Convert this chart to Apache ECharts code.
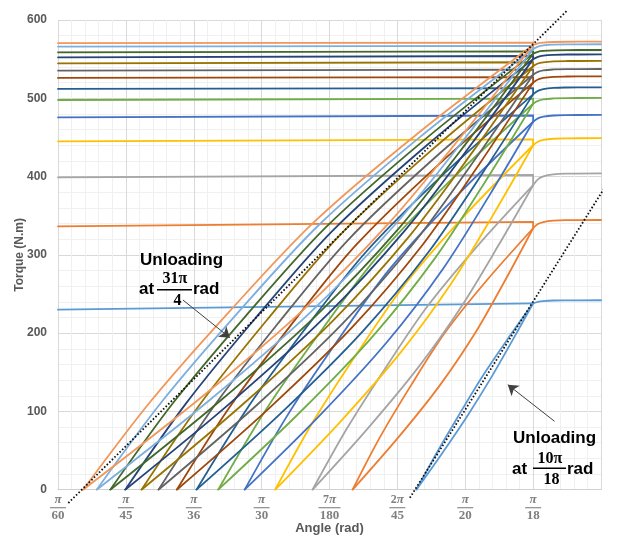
<!DOCTYPE html>
<html><head><meta charset="utf-8">
<script src="https://cdn.jsdelivr.net/npm/echarts@6/dist/echarts.min.js"></script>
<style>html,body{margin:0;padding:0;background:#fff}#c{width:638px;height:536px}</style>
</head><body><div id="c"></div>
<script>
// Angle axis values are in degrees (tick k = k·π/180 rad)
const tickNumerators = ['π','π','π','π','7π','2π','π','π',''];
const tickDenominators = ['60','45','36','30','180','45','20','18',''];

// one entry per loop, from the lowest (right-most) to the highest (left-most)
const loopStart  = [8.28,7.34,6.75,6.20,5.75,5.36,5.04,4.75,4.48,4.23,3.99,3.77,3.57,3.37];
const tipTorque  = [238,334,389,440,470,493,505,520,530,541,550,557,563,568];
const holdLeft   = [230,336.5,399,445,475.7,497.8,512,526,535.4,544.7,552.3,558.7,566,570.5];
const holdRight  = [238,342,402,447.6,478,499.5,513,527,536.5,546,554,560,567,571];

const upperBranch = [
  [[8.583,47.6],[8.905,95.2],[9.238,142.8],[9.608,190.4]],
  [[7.742,66.8],[8.203,133.6],[8.700,200.4],[9.315,267.2]],
  [[7.254,77.8],[7.825,155.6],[8.435,233.4],[9.178,311.2]],
  [[6.766,88],[7.420,176],[8.127,264],[9.011,352]],
  [[6.373,94],[7.100,188],[7.888,282],[8.882,376]],
  [[6.037,98.6],[6.828,197.2],[7.687,295.8],[8.775,394.4]],
  [[5.765,101],[6.611,202],[7.530,303],[8.692,404]],
  [[5.517,104],[6.412,208],[7.385,312],[8.615,416]],
  [[5.292,106],[6.237,212],[7.262,318],[8.551,424]],
  [[5.084,108.2],[6.075,216.4],[7.147,324.6],[8.492,432.8]],
  [[4.884,110],[5.918,220],[7.036,330],[8.434,440]],
  [[4.700,111.4],[5.774,222.8],[6.934,334.2],[8.381,445.6]],
  [[4.532,112.6],[5.641,225.2],[6.839,337.8],[8.331,450.4]],
  [[4.372,113.6],[5.521,227.2],[6.759,340.8],[8.291,454.4]]
];
const lowerBranch = [
  [[8.668,47.6],[9.038,95.2],[9.379,142.8],[9.693,190.4]],
  [[8.014,66.8],[8.628,133.6],[9.148,200.4],[9.586,267.2]],
  [[7.559,77.8],[8.302,155.6],[8.939,233.4],[9.483,311.2]],
  [[7.172,88],[8.055,176],[8.798,264],[9.417,352]],
  [[6.847,94],[7.841,188],[8.671,282],[9.356,376]],
  [[6.562,98.6],[7.650,197.2],[8.555,295.8],[9.301,394.4]],
  [[6.324,101],[7.486,202],[8.453,303],[9.251,404]],
  [[6.109,104],[7.339,208],[8.364,312],[9.208,416]],
  [[5.902,106],[7.192,212],[8.269,318],[9.161,424]],
  [[5.711,108.2],[7.056,216.4],[8.183,324.6],[9.119,432.8]],
  [[5.528,110],[6.926,220],[8.100,330],[9.078,440]],
  [[5.360,111.4],[6.807,222.8],[8.025,334.2],[9.041,445.6]],
  [[5.209,112.6],[6.702,225.2],[7.958,337.8],[9.009,450.4]],
  [[5.049,113.6],[6.582,227.2],[7.878,340.8],[8.969,454.4]]
];
const tailAngles = [10,10.07,10.15,10.3,10.5,11];
const tailTorque = [
  [238,240,241,241.7,241.9,242],
  [334,339.3,341.9,343.7,344.3,344.5],
  [389,396.5,400.3,402.8,403.7,404],
  [440,444.5,446.8,448.3,448.8,449],
  [470,474.4,476.5,478,478.5,478.7],
  [493,496.7,498.6,499.8,500.3,500.4],
  [505,509.5,511.8,513.3,513.8,514],
  [520,524,526,527.4,527.8,528],
  [530,533.7,535.6,536.8,537.3,537.4],
  [541,544.4,546,547.2,547.6,547.7],
  [550,553,554.5,555.5,555.9,556],
  [557,559.4,560.5,561.3,561.6,561.7],
  [563,566,567.5,568.5,568.9,569],
  [568,570.2,571.2,571.9,572.2,572.3]
];
const unloadLineA = [[3.152,-17],[10.51,612.8]];
const unloadLineB = [[8.184,-10.4],[11.54,453]];
const arrowA = [[4.841,242.3],[5.533,194.1]];
const arrowB = [[10.315,87.4],[9.627,134.1]];

const colors = ['#5B9BD5','#ED7D31','#A5A5A5','#FFC000','#4472C4','#70AD47','#255E91','#9E480E','#636363','#997300','#264478','#43682B','#7CAFDD','#F1975A'];

const series = [];
for (let i = 0; i < loopStart.length; i++) {
  const c = colors[i];
  const base = {type:'line', symbol:'none', showSymbol:false, silent:true, animation:false,
    lineStyle:{color:c, width:1.8, cap:'round', join:'round'}, itemStyle:{color:c}, z:2};
  series.push(Object.assign({}, base, {data:[[3,holdLeft[i]],[10,holdRight[i]],[10,tipTorque[i]]]}));
  series.push(Object.assign({}, base, {smooth:0.3, data:[[loopStart[i],0]].concat(upperBranch[i],[[10,tipTorque[i]]])}));
  series.push(Object.assign({}, base, {smooth:0.3, data:[[loopStart[i],0]].concat(lowerBranch[i],[[10,tipTorque[i]]])}));
  series.push(Object.assign({}, base, {smooth:0.4, data:tailAngles.map((a,k)=>[a, tailTorque[i][k]])}));
}
const dotted = {type:'line', symbol:'none', silent:true, animation:false, clip:false, z:5,
  lineStyle:{color:'#111', width:1.8, type:[1.6,2]}};
series.push(Object.assign({}, dotted, {data:unloadLineA}));
series.push(Object.assign({}, dotted, {data:unloadLineB}));
// arrows
series.push({type:'line', symbol:'none', silent:true, animation:false, data:[], z:6,
  markLine:{silent:true, animation:false, symbol:['none','arrow'], symbolSize:10, label:{show:false},
    lineStyle:{color:'#404040', width:1, type:'solid'}, itemStyle:{color:'#404040'},
    data:[[{coord:arrowA[0]},{coord:arrowA[1]}],[{coord:arrowB[0]},{coord:arrowB[1]}]]}});

const lbl = '#7f7f7f';
const ann = 'bold 17px "Liberation Sans"';
const fr = 'bold 16px "Liberation Serif"';
function T(x, y, text, font, align) {
  return {type:'text', x:x, y:y, silent:true, z:100,
    style:{text:text, font:font, fill:'#000', textAlign:align||'left', align:align||'left',
      textVerticalAlign:'middle', verticalAlign:'middle'}};
}
function L(x1, x2, y) {
  return {type:'line', silent:true, z:100, shape:{x1:x1,y1:y,x2:x2,y2:y}, style:{stroke:'#000', lineWidth:1.4}};
}

const chart = echarts.init(document.getElementById('c'), null, {renderer:'canvas'});
chart.setOption({
  animation:false,
  backgroundColor:'#fff',
  grid:{left:58, right:37, top:20, bottom:46.3, containLabel:false, outerBoundsMode:'none'},
  xAxis:{type:'value', min:3, max:11, interval:1,
    name:'Angle (rad)', nameLocation:'middle', nameGap:32, nameMoveOverlap:false,
    nameTextStyle:{fontWeight:'bold', fontSize:13, fontFamily:'Liberation Sans', color:'#595959'},
    axisLine:{show:true, lineStyle:{color:'#d0d0d0', width:1}},
    axisTick:{show:false},
    splitLine:{show:true, lineStyle:{color:'#d9d9d9', width:1}},
    minorTick:{show:false, splitNumber:5},
    minorSplitLine:{show:true, lineStyle:{color:'#f0f0f0', width:1}},
    axisLabel:{margin:4, align:'center',
      formatter:function(v){
        const i = Math.round(v - 3);
        const d = tickDenominators[i];
        if (!d) return '';
        const n = tickNumerators[i];
        const coef = n.slice(0, -1);
        const bar = d.length > 2 ? 'b3' : 'b2';
        return (coef ? '{c|' + coef + '}' : '') + '{n|π}\n{' + bar + '| }\n{d|' + d + '}';
      },
      rich:{
        c:{fontFamily:'Liberation Serif', fontWeight:'bold', fontSize:12, color:lbl, lineHeight:12},
        n:{fontFamily:'Liberation Serif', fontWeight:'bold', fontStyle:'italic', fontSize:13, color:lbl, lineHeight:12},
        b2:{width:16, height:1.2, backgroundColor:'#8c8c8c', lineHeight:4, fontSize:4},
        b3:{width:22, height:1.2, backgroundColor:'#8c8c8c', lineHeight:4, fontSize:4},
        d:{fontFamily:'Liberation Serif', fontWeight:'bold', fontSize:13, color:lbl, lineHeight:12}
      }}
  },
  yAxis:{type:'value', min:0, max:600, interval:100,
    name:'Torque (N.m)', nameLocation:'middle', nameGap:32, nameRotate:90, nameMoveOverlap:false,
    nameTextStyle:{fontWeight:'bold', fontSize:12, fontFamily:'Liberation Sans', color:'#595959'},
    axisLine:{show:false}, axisTick:{show:false},
    splitLine:{show:true, lineStyle:{color:'#d9d9d9', width:1}},
    minorTick:{show:false, splitNumber:5},
    minorSplitLine:{show:true, lineStyle:{color:'#f0f0f0', width:1}},
    axisLabel:{margin:11, fontWeight:'bold', fontSize:12, fontFamily:'Liberation Sans', color:'#595959'}
  },
  series:series,
  graphic:[
    T(140,260,'Unloading',ann), T(139,289.5,'at',ann), T(175,278.5,'31π',fr,'center'),
    L(157,192,289.7), T(177.5,301,'4',fr,'center'), T(193,289.5,'rad',ann),
    T(513,438,'Unloading',ann), T(512,469,'at',ann), T(550,458.5,'10π',fr,'center'),
    L(533,566,468.3), T(551.5,479.5,'18',fr,'center'), T(567,469,'rad',ann)
  ]
});
</script></body></html>
